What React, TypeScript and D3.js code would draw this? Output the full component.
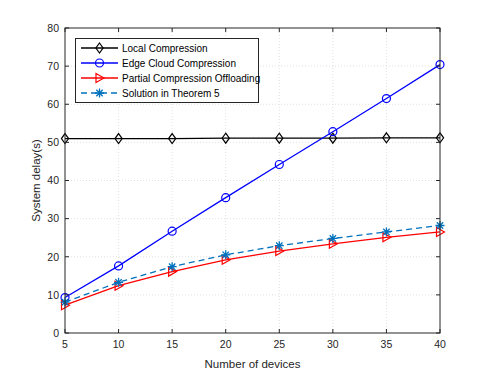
import React, { useEffect, useRef } from "react";
import * as d3 from "d3";

const devices = [5, 10, 15, 20, 25, 30, 35, 40];
const localCompression = [51.0, 51.0, 51.0, 51.1, 51.1, 51.1, 51.2, 51.2];
const edgeCloud = [9.3, 17.6, 26.7, 35.5, 44.2, 52.8, 61.5, 70.4];
const partialOffload = [7.3, 12.4, 16.1, 19.2, 21.5, 23.4, 25.1, 26.5];
const theorem5 = [8.1, 13.3, 17.4, 20.5, 22.9, 24.8, 26.5, 28.2];
const xTicks = [5, 10, 15, 20, 25, 30, 35, 40];
const yTicks = [0, 10, 20, 30, 40, 50, 60, 70, 80];

const seriesList = [
  { name: "Local Compression", values: localCompression, color: "#000000", marker: "diamond", dash: null },
  { name: "Edge Cloud Compression", values: edgeCloud, color: "#0000ff", marker: "circle", dash: null },
  { name: "Partial Compression Offloading", values: partialOffload, color: "#ff0000", marker: "triangle", dash: null },
  { name: "Solution in Theorem 5", values: theorem5, color: "#0072bd", marker: "star", dash: "6,4" },
];

function drawMarker(g: any, kind: string, x: number, y: number, color: string) {
  if (kind === "diamond") {
    g.append("path")
      .attr("d", `M${x},${y - 5}L${x + 3.6},${y}L${x},${y + 5}L${x - 3.6},${y}Z`)
      .attr("fill", "none").attr("stroke", color).attr("stroke-width", 1.2);
  } else if (kind === "circle") {
    g.append("circle").attr("cx", x).attr("cy", y).attr("r", 4)
      .attr("fill", "none").attr("stroke", color).attr("stroke-width", 1.2);
  } else if (kind === "triangle") {
    g.append("path")
      .attr("d", `M${x - 3.5},${y - 4.5}L${x + 4.5},${y}L${x - 3.5},${y + 4.5}Z`)
      .attr("fill", "none").attr("stroke", color).attr("stroke-width", 1.2);
  } else {
    const r = 4.5;
    const p = [0, 45, 90, 135].map(a => {
      const t = (a * Math.PI) / 180;
      return `M${x - r * Math.cos(t)},${y - r * Math.sin(t)}L${x + r * Math.cos(t)},${y + r * Math.sin(t)}`;
    }).join("");
    g.append("path").attr("d", p).attr("fill", "none").attr("stroke", color).attr("stroke-width", 1.3);
  }
}

export default function App() {
  const svgRef = useRef<SVGSVGElement | null>(null);
  const width = 498;
  const height = 374;
  const margin = { left: 65, right: 58, top: 28, bottom: 41 };

  useEffect(() => {
    const svg = d3.select(svgRef.current);
    svg.selectAll("*").remove();
    const x = d3.scaleLinear().domain([5, 40]).range([margin.left, width - margin.right]);
    const y = d3.scaleLinear().domain([0, 80]).range([height - margin.bottom, margin.top]);
    const font = "'Liberation Sans', Arial, sans-serif";
    const axisColor = "#262626";

    svg.append("rect").attr("width", width).attr("height", height).attr("fill", "#fff");

    // grid
    const grid = svg.append("g").attr("stroke", "#d9d9d9").attr("stroke-dasharray", "1,2").attr("stroke-width", 0.8);
    xTicks.slice(1, -1).forEach(t => {
      grid.append("line").attr("x1", x(t)).attr("x2", x(t)).attr("y1", y(0)).attr("y2", y(80));
    });
    yTicks.slice(1, -1).forEach(t => {
      grid.append("line").attr("x1", x(5)).attr("x2", x(40)).attr("y1", y(t)).attr("y2", y(t));
    });

    // lines + markers
    seriesList.forEach(s => {
      const line = d3.line<number>().x((_, i) => x(devices[i])).y(d => y(d));
      svg.append("path").datum(s.values).attr("d", line)
        .attr("fill", "none").attr("stroke", s.color).attr("stroke-width", 1.3)
        .attr("stroke-dasharray", s.dash);
      const g = svg.append("g");
      s.values.forEach((v, i) => drawMarker(g, s.marker, x(devices[i]), y(v), s.color));
    });

    // axes box
    svg.append("rect").attr("x", x(5)).attr("y", y(80)).attr("width", x(40) - x(5)).attr("height", y(0) - y(80))
      .attr("fill", "none").attr("stroke", axisColor).attr("stroke-width", 1);

    const ticks = svg.append("g").attr("stroke", axisColor).attr("stroke-width", 1);
    xTicks.forEach(t => {
      ticks.append("line").attr("x1", x(t)).attr("x2", x(t)).attr("y1", y(0)).attr("y2", y(0) - 4);
      ticks.append("line").attr("x1", x(t)).attr("x2", x(t)).attr("y1", y(80)).attr("y2", y(80) + 4);
      svg.append("text").attr("x", x(t)).attr("y", y(0) + 15).attr("text-anchor", "middle")
        .attr("font-family", font).attr("font-size", 10.5).attr("fill", axisColor).text(t);
    });
    yTicks.forEach(t => {
      ticks.append("line").attr("x1", x(5)).attr("x2", x(5) + 4).attr("y1", y(t)).attr("y2", y(t));
      ticks.append("line").attr("x1", x(40)).attr("x2", x(40) - 4).attr("y1", y(t)).attr("y2", y(t));
      svg.append("text").attr("x", x(5) - 6).attr("y", y(t) + 3.8).attr("text-anchor", "end")
        .attr("font-family", font).attr("font-size", 10.5).attr("fill", axisColor).text(t);
    });

    svg.append("text").attr("x", (x(5) + x(40)) / 2).attr("y", 368).attr("text-anchor", "middle")
      .attr("font-family", font).attr("font-size", 11.5).attr("fill", axisColor).text("Number of devices");
    svg.append("text").attr("transform", `translate(40,${(y(0) + y(80)) / 2}) rotate(-90)`)
      .attr("text-anchor", "middle").attr("font-family", font).attr("font-size", 11.5)
      .attr("fill", axisColor).text("System delay(s)");

    // legend
    const lg = svg.append("g");
    lg.append("rect").attr("x", 75.5).attr("y", 38.5).attr("width", 183).attr("height", 64)
      .attr("fill", "#fff").attr("stroke", axisColor).attr("stroke-width", 1);
    seriesList.forEach((s, i) => {
      const yy = 48 + i * 15;
      lg.append("line").attr("x1", 81).attr("x2", 118).attr("y1", yy).attr("y2", yy)
        .attr("stroke", s.color).attr("stroke-width", 1.3).attr("stroke-dasharray", s.dash);
      drawMarker(lg, s.marker, 99.5, yy, s.color);
      lg.append("text").attr("x", 122).attr("y", yy + 3.5).attr("font-family", font)
        .attr("font-size", 10).attr("fill", "#000").text(s.name);
    });
  }, []);

  return (
    <div>
      <svg ref={svgRef} width={width} height={height} style={{ position: "absolute", left: 0, top: 0 }} />
    </div>
  );
}
